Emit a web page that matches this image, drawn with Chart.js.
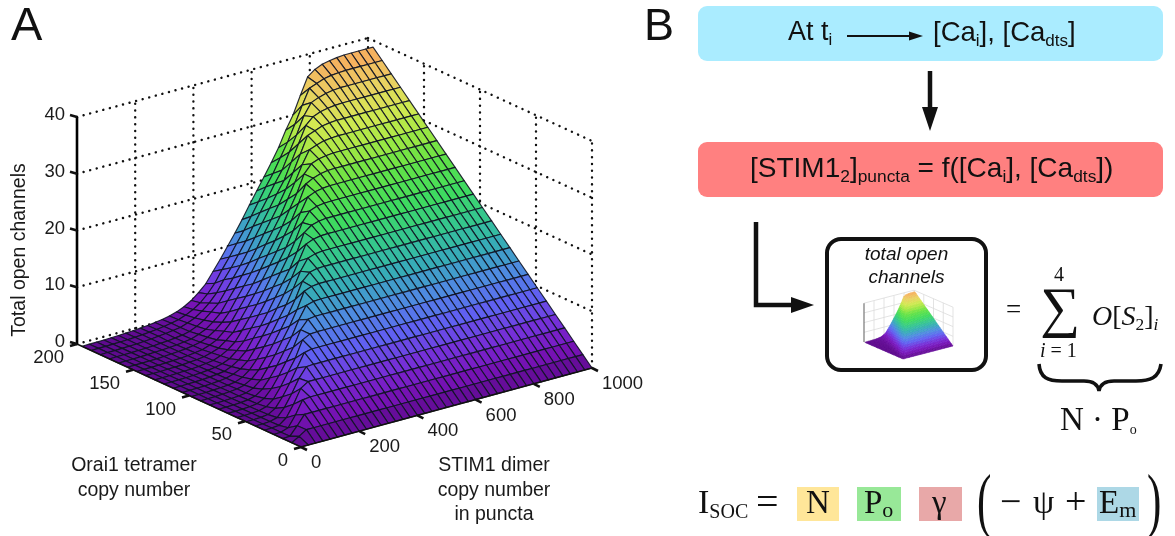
<!DOCTYPE html>
<html>
<head>
<meta charset="utf-8">
<title>Total open channels</title>
<script src="https://cdn.jsdelivr.net/npm/chart.js@4"></script>
<style>
    html, body { margin: 0; padding: 0; background: #fff; }
    #page { position: relative; width: 1175px; height: 536px; overflow: hidden; }
    #chart { position: absolute; left: 0; top: 0; z-index: 1; }
    #art { position: absolute; left: 0; top: 0; z-index: 1; }
    .box { position: absolute; z-index: 0; }
    .t { position: absolute; z-index: 2; white-space: nowrap; color: #111; font-family: "Liberation Sans", sans-serif; }
    .m { font-family: "Liberation Serif", serif; color: #111; }
    sub { font-size: 0.62em; line-height: 0; vertical-align: -0.28em; }
</style>
</head>
<body>
<div id="page">
    <div class="box" style="left:698px;top:6px;width:465px;height:55px;background:#aaecff;border-radius:9px"></div>
    <div class="box" style="left:698px;top:142px;width:465px;height:55px;background:#ff8080;border-radius:9px"></div>
    <div class="box" style="left:825px;top:237px;width:155px;height:127px;border:4px solid #111;border-radius:16px"></div>
    <div class="box" style="left:797px;top:487px;width:42px;height:34px;background:#ffe699"></div>
    <div class="box" style="left:857px;top:487px;width:44px;height:34px;background:#98e898"></div>
    <div class="box" style="left:919px;top:487px;width:43px;height:34px;background:#e8a8a8"></div>
    <div class="box" style="left:1097px;top:487px;width:42px;height:34px;background:#add8e6"></div>

    <canvas id="chart" width="1175" height="536"></canvas>

    <svg id="art" width="1175" height="536">
        <path d="M847 36H915" stroke="#111" stroke-width="2" fill="none"/>
        <path d="M923 36L909 31.5V40.5Z" fill="#111"/>
        <path d="M930 71V112" stroke="#111" stroke-width="4.5" fill="none"/>
        <path d="M930 131L922 107H938Z" fill="#111"/>
        <path d="M756 222V305H796" stroke="#111" stroke-width="4.5" fill="none"/>
        <path d="M814 305L791 297V313Z" fill="#111"/>
        <path d="M1039 364C1040 378 1048 381 1062 381H1084C1094 381 1098 385 1099 391C1100 385 1104 381 1114 381H1136C1150 381 1159 378 1161 364" stroke="#111" stroke-width="3.6" fill="none"/>
    </svg>

    <div class="t" style="left:11px;top:-4px;font-size:47px">A</div>
    <div class="t" style="left:644px;top:-1px;font-size:45px">B</div>

    <div class="t" style="left:788px;top:16px;font-size:27px">At t<sub>i</sub></div>
    <div class="t" style="left:933px;top:16px;font-size:27.5px">[Ca<sub>i</sub>], [Ca<sub>dts</sub>]</div>
    <div class="t" style="left:750px;top:152px;font-size:28px">[STIM1<sub>2</sub>]<sub>puncta</sub> = f([Ca<sub>i</sub>], [Ca<sub>dts</sub>])</div>

    <div class="t" style="left:827px;top:242px;width:159px;text-align:center;font-size:19px;font-style:italic;line-height:23px">total open<br>channels</div>

    <div class="t m" style="left:1006px;top:294px;font-size:27px">=</div>
    <div class="t m" style="left:1054px;top:263px;font-size:20px">4</div>
    <div class="t m" style="left:1040px;top:275px;font-size:56px">∑</div>
    <div class="t m" style="left:1040px;top:339px;font-size:20px"><i>i</i> = 1</div>
    <div class="t m" style="left:1092px;top:300px;font-size:28px"><i>O</i>[<i>S</i><sub>2</sub>]<sub><i>i</i></sub></div>
    <div class="t m" style="left:1060px;top:401px;font-size:33px">N · P<sub style="font-size:14px">o</sub></div>

    <div class="t m" style="left:698px;top:483px;font-size:34px">I<sub style="font-size:20px;vertical-align:-0.25em">SOC</sub></div>
    <div class="t m" style="left:756px;top:478px;font-size:40px">=</div>
    <div class="t m" style="left:806px;top:484px;font-size:33px">N</div>
    <div class="t m" style="left:864px;top:484px;font-size:33px">P<sub style="font-size:22px;vertical-align:-0.2em">o</sub></div>
    <div class="t m" style="left:932px;top:484px;font-size:33px">γ</div>
    <div class="t m" style="left:977px;top:459px;font-size:72px;transform:scaleX(0.6);transform-origin:0 0">(</div>
    <div class="t m" style="left:1000px;top:479px;font-size:38px">−</div>
    <div class="t m" style="left:1033px;top:483px;font-size:34px">ψ</div>
    <div class="t m" style="left:1065px;top:479px;font-size:38px">+</div>
    <div class="t m" style="left:1099px;top:484px;font-size:33px">E<sub style="font-size:22px;vertical-align:-0.2em">m</sub></div>
    <div class="t m" style="left:1147px;top:459px;font-size:72px;transform:scaleX(0.6);transform-origin:0 0">)</div>
</div>

<script>
// axis values
const stimTicks = [0, 200, 400, 600, 800, 1000];
const oraiTicks = [0, 50, 100, 150, 200];
const openTicks = [0, 10, 20, 30, 40];

// mesh positions on the two floor axes
const stimCopies = [0, 25, 50, 75, 100, 125, 150, 175, 200, 225, 250, 275, 300, 325, 350, 375, 400, 425, 450, 475, 500,
    525, 550, 575, 600, 625, 650, 675, 700, 725, 750, 775, 800, 825, 850, 875, 900, 925, 950, 975, 1000];
const oraiCopies = [0, 8.15, 16.3, 24.4, 32.6, 40.7, 48.9, 57, 65.2, 73.3, 81.5, 89.6, 97.8, 105.9, 114, 122.2, 130.3,
    138.5, 146.6, 154.8, 162.9, 171, 179.2, 187.3, 195.5];

// total open channels, one row per oraiCopies entry, one column per stimCopies entry
const openChannels = [
    [0,0,0,0,0,0,0,0,0,0,0,0,0,0,0,0,0,0,0,0,0,0,0,0,0,0,0,0,0,0,0,0,0,0,0,0,0,0,0,0,0],
    [0,.79,1.62,1.62,1.62,1.62,1.62,1.62,1.62,1.62,1.62,1.62,1.62,1.62,1.62,1.62,1.62,1.62,1.62,1.62,1.62,1.62,1.62,1.62,1.62,1.62,1.62,1.62,1.62,1.62,1.62,1.62,1.62,1.62,1.62,1.62,1.62,1.62,1.62,1.62,1.62],
    [0,.08,1.58,3.23,3.23,3.23,3.23,3.23,3.23,3.23,3.23,3.23,3.23,3.23,3.23,3.23,3.23,3.23,3.23,3.23,3.23,3.23,3.23,3.23,3.23,3.23,3.23,3.23,3.23,3.23,3.23,3.23,3.23,3.23,3.23,3.23,3.23,3.23,3.23,3.23,3.23],
    [0,.04,.49,2.38,4.7,4.85,4.85,4.85,4.85,4.85,4.85,4.85,4.85,4.85,4.85,4.85,4.85,4.85,4.85,4.85,4.85,4.85,4.85,4.85,4.85,4.85,4.85,4.85,4.85,4.85,4.85,4.85,4.85,4.85,4.85,4.85,4.85,4.85,4.85,4.85,4.85],
    [0,.03,.16,1.15,3.17,5.63,6.47,6.47,6.47,6.47,6.47,6.47,6.47,6.47,6.47,6.47,6.47,6.47,6.47,6.47,6.47,6.47,6.47,6.47,6.47,6.47,6.47,6.47,6.47,6.47,6.47,6.47,6.47,6.47,6.47,6.47,6.47,6.47,6.47,6.47,6.47],
    [0,.02,.11,.44,1.9,3.96,6.31,8.01,8.09,8.09,8.09,8.09,8.09,8.09,8.09,8.09,8.09,8.09,8.09,8.09,8.09,8.09,8.09,8.09,8.09,8.09,8.09,8.09,8.09,8.09,8.09,8.09,8.09,8.09,8.09,8.09,8.09,8.09,8.09,8.09,8.09],
    [0,.02,.09,.23,.97,2.67,4.75,7.08,9.41,9.7,9.7,9.7,9.7,9.7,9.7,9.7,9.7,9.7,9.7,9.7,9.7,9.7,9.7,9.7,9.7,9.7,9.7,9.7,9.7,9.7,9.7,9.7,9.7,9.7,9.7,9.7,9.7,9.7,9.7,9.7,9.7],
    [0,.02,.07,.18,.52,1.53,3.4,5.55,7.7,10.58,11.24,11.32,11.32,11.32,11.32,11.32,11.32,11.32,11.32,11.32,11.32,11.32,11.32,11.32,11.32,11.32,11.32,11.32,11.32,11.32,11.32,11.32,11.32,11.32,11.32,11.32,11.32,11.32,11.32,11.32,11.32],
    [0,.02,.06,.14,.31,.91,2.3,4.21,6.34,8.54,11.26,12.75,12.94,12.94,12.94,12.94,12.94,12.94,12.94,12.94,12.94,12.94,12.94,12.94,12.94,12.94,12.94,12.94,12.94,12.94,12.94,12.94,12.94,12.94,12.94,12.94,12.94,12.94,12.94,12.94,12.94],
    [0,.02,.06,.13,.26,.58,1.46,3.06,4.95,7.13,9.31,11.93,14.11,14.48,14.55,14.55,14.55,14.55,14.55,14.55,14.55,14.55,14.55,14.55,14.55,14.55,14.55,14.55,14.55,14.55,14.55,14.55,14.55,14.55,14.55,14.55,14.55,14.55,14.55,14.55,14.55],
    [0,.02,.05,.11,.21,.39,.89,1.94,3.8,5.74,7.92,10.11,12.61,15.52,16.01,16.17,16.17,16.17,16.17,16.17,16.17,16.17,16.17,16.17,16.17,16.17,16.17,16.17,16.17,16.17,16.17,16.17,16.17,16.17,16.17,16.17,16.17,16.17,16.17,16.17,16.17],
    [0,.02,.05,.11,.2,.34,.68,1.39,2.67,4.54,6.53,8.72,10.91,13.34,16.19,17.43,17.74,17.79,17.79,17.79,17.79,17.79,17.79,17.79,17.79,17.79,17.79,17.79,17.79,17.79,17.79,17.79,17.79,17.79,17.79,17.79,17.79,17.79,17.79,17.79,17.79],
    [0,.02,.04,.1,.17,.27,.47,.97,1.94,3.45,5.34,7.33,9.51,11.64,14.16,16.88,18.82,19.24,19.4,19.4,19.4,19.4,19.4,19.4,19.4,19.4,19.4,19.4,19.4,19.4,19.4,19.4,19.4,19.4,19.4,19.4,19.4,19.4,19.4,19.4,19.4],
    [0,.02,.04,.08,.15,.25,.42,.76,1.37,2.42,4.2,6.1,8.09,10.3,12.49,14.92,17.55,20.22,20.75,20.98,21.02,21.02,21.02,21.02,21.02,21.02,21.02,21.02,21.02,21.02,21.02,21.02,21.02,21.02,21.02,21.02,21.02,21.02,21.02,21.02,21.02],
    [0,.02,.05,.09,.14,.23,.36,.54,1.04,1.88,3.06,4.98,6.79,8.83,11.09,13.24,15.4,18.11,21.17,22.12,22.48,22.64,22.64,22.64,22.64,22.64,22.64,22.64,22.64,22.64,22.64,22.64,22.64,22.64,22.64,22.64,22.64,22.64,22.64,22.64,22.64],
    [0,.02,.05,.07,.12,.22,.32,.49,.8,1.33,2.43,3.76,5.7,7.64,9.7,11.89,14.07,16.38,18.92,21.83,23.53,24.02,24.21,24.26,24.26,24.26,24.26,24.26,24.26,24.26,24.26,24.26,24.26,24.26,24.26,24.26,24.26,24.26,24.26,24.26,24.26],
    [0,.03,.04,.08,.13,.18,.28,.44,.62,1.11,1.81,2.85,4.6,6.47,8.41,10.48,12.68,14.88,17.07,19.66,22.51,24.91,25.48,25.74,25.87,25.87,25.87,25.87,25.87,25.87,25.87,25.87,25.87,25.87,25.87,25.87,25.87,25.87,25.87,25.87,25.87],
    [0,.03,.04,.08,.11,.16,.27,.38,.55,.91,1.37,2.34,3.44,5.36,7.28,9.21,11.27,13.47,15.67,18.01,20.34,23.09,26.12,26.8,27.24,27.44,27.49,27.49,27.49,27.49,27.49,27.49,27.49,27.49,27.49,27.49,27.49,27.49,27.49,27.49,27.49],
    [0,.03,.03,.06,.12,.17,.26,.35,.52,.7,1.16,1.75,2.91,4.22,6.11,8.01,9.9,12.08,14.26,16.45,18.63,21.25,23.72,26.78,28.24,28.76,28.96,29.11,29.11,29.11,29.11,29.11,29.11,29.11,29.11,29.11,29.11,29.11,29.11,29.11,29.11],
    [0,.03,.03,.06,.09,.15,.25,.34,.46,.65,.92,1.44,2.3,3.38,4.92,6.91,8.76,10.75,12.9,15.05,17.2,19.35,21.96,24.58,27.34,29.64,30.11,30.5,30.66,30.72,30.72,30.72,30.72,30.72,30.72,30.72,30.72,30.72,30.72,30.72,30.72],
    [0,.03,.03,.06,.1,.16,.23,.32,.42,.58,.78,1.23,1.78,2.75,3.88,5.76,7.6,9.54,11.48,13.58,15.85,18.01,20.21,22.64,25.23,28.14,31.05,31.53,32.02,32.24,32.34,32.34,32.34,32.34,32.34,32.34,32.34,32.34,32.34,32.34,32.34],
    [0,.03,.03,.07,.1,.14,.2,.31,.37,.54,.71,1.02,1.56,2.31,3.4,4.58,6.45,8.32,10.19,12.23,14.43,16.64,18.85,21.06,23.09,25.98,28.87,31.75,32.94,33.45,33.72,33.89,33.96,33.96,33.96,33.96,33.96,33.96,33.96,33.96,33.96],
    [0,.03,.03,.07,.11,.16,.24,.34,.46,.6,.78,.98,1.4,1.95,2.8,3.9,5.34,7.29,9.07,11.03,13.05,15.3,17.43,19.56,21.8,23.83,26.68,29.35,32.37,34.33,34.86,35.25,35.46,35.57,35.57,35.57,35.57,35.57,35.57,35.57,35.57],
    [0,.03,.04,.08,.12,.17,.24,.33,.45,.58,.76,.98,1.25,1.72,2.35,3.2,4.4,5.95,8,9.86,11.9,13.83,15.99,18.22,20.45,22.5,24.92,27.33,30.12,33.1,35.78,36.26,36.74,37,37.12,37.19,37.19,37.19,37.19,37.19,37.19],
    [0,.03,.05,.08,.12,.17,.24,.32,.42,.54,.7,.9,1.18,1.55,2.1,2.85,3.9,5.1,6.91,8.73,10.67,12.61,14.67,16.88,19.02,21.15,23.29,25.61,28.33,30.66,33.76,36.68,37.65,38.23,38.5,38.69,38.81,38.81,38.81,38.81,38.81]
];

// colours of the surface against open channel count
const colourLevels = [0, 3, 6, 9, 12, 15, 18, 22, 26, 29, 32, 35, 39];
const colourValues = ['#5f0a8e', '#7a14bc', '#7434dc', '#5f62f2', '#4f8ae2', '#38a9bc', '#33c494', '#3fdb5e', '#66e344', '#a6e844', '#d4e852', '#ead062', '#f8a85e'];

// where the two views sit on the page: front, right and left floor corners, pixels per channel
const mainView = { fx: 301, fy: 447, rx: 592, ry: 368, lx: 77, ly: 344, zs: 5.675 };
const insetView = { fx: 903, fy: 359, rx: 953, ry: 346, lx: 864, ly: 342, zs: 0.97 };

function project(view, stim, orai, open) {
    return {
        x: view.fx + stim / 1000 * (view.rx - view.fx) + orai / 200 * (view.lx - view.fx),
        y: view.fy + stim / 1000 * (view.ry - view.fy) + orai / 200 * (view.ly - view.fy) - open * view.zs
    };
}

function hexToRgb(hex) {
    return [parseInt(hex.slice(1, 3), 16), parseInt(hex.slice(3, 5), 16), parseInt(hex.slice(5, 7), 16)];
}

function colourFor(open) {
    let k = 0;
    while (k < colourLevels.length - 2 && open > colourLevels[k + 1]) k++;
    const t = Math.min(1, (open - colourLevels[k]) / (colourLevels[k + 1] - colourLevels[k]));
    const a = hexToRgb(colourValues[k]);
    const b = hexToRgb(colourValues[k + 1]);
    return 'rgb(' + a.map((v, n) => Math.round(v + (b[n] - v) * t)).join(',') + ')';
}

// joins short pieces into one line dataset, gaps between them
function pieces(list) {
    const out = [];
    list.forEach((p, n) => {
        if (n > 0) out.push({ x: NaN, y: NaN });
        out.push(p[0], p[1]);
    });
    return out;
}

function wallLines(view) {
    const lines = [];
    openTicks.forEach(z => {
        lines.push([project(view, 0, 200, z), project(view, 1000, 200, z)]);
        lines.push([project(view, 1000, 200, z), project(view, 1000, 0, z)]);
    });
    stimTicks.slice(1).forEach(s => lines.push([project(view, s, 200, 0), project(view, s, 200, 40)]));
    oraiTicks.slice(0, 4).forEach(o => lines.push([project(view, 1000, o, 0), project(view, 1000, o, 40)]));
    return pieces(lines);
}

function lineSet(data, colour, width, dash) {
    return {
        data: data, showLine: true, spanGaps: false, pointRadius: 0,
        borderColor: colour, borderWidth: width, borderDash: dash || [],
        borderCapStyle: dash ? 'round' : 'butt', tension: 0
    };
}

function offset(p, dx, dy) {
    return { x: p.x + dx, y: p.y + dy };
}

const openAxisTicks = pieces(openTicks.map(z => {
    const p = project(mainView, 0, 200, z);
    return [p, offset(p, -7, -2)];
}));
const oraiAxisTicks = pieces(oraiTicks.map(o => {
    const p = project(mainView, 0, o, 0);
    return [p, offset(p, -7, 2)];
}));
const stimAxisTicks = pieces(stimTicks.map(s => {
    const p = project(mainView, s, 0, 0);
    return [p, offset(p, 6, 3)];
}));

const surfaceMarker = { data: [], surfaces: [{ view: mainView, mesh: true }] };
const insetMarker = { data: [], surfaces: [{ view: insetView, mesh: false }] };

function drawSurface(chart, spec) {
    const ctx = chart.ctx;
    const xs = chart.scales.x;
    const ys = chart.scales.y;
    const px = (i, j) => {
        const p = project(spec.view, stimCopies[j], oraiCopies[i], openChannels[i][j]);
        return [xs.getPixelForValue(p.x), ys.getPixelForValue(p.y)];
    };
    ctx.save();
    ctx.lineJoin = 'round';
    for (let i = oraiCopies.length - 2; i >= 0; i--) {
        for (let j = stimCopies.length - 2; j >= 0; j--) {
            const corners = [px(i, j), px(i, j + 1), px(i + 1, j + 1), px(i + 1, j)];
            const mean = (openChannels[i][j] + openChannels[i][j + 1] + openChannels[i + 1][j + 1] + openChannels[i + 1][j]) / 4;
            ctx.beginPath();
            corners.forEach((c, n) => n ? ctx.lineTo(c[0], c[1]) : ctx.moveTo(c[0], c[1]));
            ctx.closePath();
            ctx.fillStyle = colourFor(mean);
            ctx.fill();
            ctx.strokeStyle = spec.mesh ? 'rgba(15,20,35,0.9)' : colourFor(mean);
            ctx.lineWidth = spec.mesh ? 1.15 : 0.5;
            ctx.stroke();
        }
    }
    ctx.restore();
}

const surfacePlugin = {
    id: 'surface',
    afterDatasetDraw(chart, args) {
        const set = chart.data.datasets[args.index];
        if (set.surfaces) set.surfaces.forEach(s => drawSurface(chart, s));
    },
    afterDraw(chart) {
        const ctx = chart.ctx;
        const xs = chart.scales.x;
        const ys = chart.scales.y;
        const label = (text, x, y, align) => {
            ctx.textAlign = align;
            ctx.fillText(text, xs.getPixelForValue(x), ys.getPixelForValue(y));
        };
        ctx.save();
        ctx.fillStyle = '#1a1a1a';
        ctx.textBaseline = 'middle';
        ctx.font = '18.5px "Liberation Sans"';
        openTicks.forEach(z => {
            const p = project(mainView, 0, 200, z);
            label(String(z), p.x - 12, p.y - 2, 'right');
        });
        oraiTicks.forEach(o => {
            const p = project(mainView, 0, o, 0);
            label(String(o), p.x - 13, p.y + 14, 'right');
        });
        stimTicks.forEach(s => {
            const p = project(mainView, s, 0, 0);
            label(String(s), p.x + 10, p.y + 16, 'left');
        });
        ctx.font = '19.5px "Liberation Sans"';
        label('Orai1 tetramer', 134, 466, 'center');
        label('copy number', 134, 491, 'center');
        label('STIM1 dimer', 494, 466, 'center');
        label('copy number', 494, 491, 'center');
        label('in puncta', 494, 515, 'center');
        ctx.translate(20, 250);
        ctx.rotate(-Math.PI / 2);
        ctx.textAlign = 'center';
        ctx.fillText('Total open channels', 0, 0);
        ctx.restore();
    }
};

new Chart(document.getElementById('chart').getContext('2d'), {
    type: 'scatter',
    data: {
        datasets: [
            lineSet(stimAxisTicks, '#111', 2.6),
            lineSet(oraiAxisTicks, '#111', 2.6),
            lineSet(openAxisTicks, '#111', 2.6),
            lineSet([project(mainView, 0, 200, 0), project(mainView, 0, 200, 40)], '#000', 2.6),
            lineSet([project(mainView, 0, 200, 0), project(mainView, 0, 0, 0), project(mainView, 1000, 0, 0)], '#111', 1.4),
            surfaceMarker,
            lineSet(wallLines(mainView), '#111', 2.4, [0.1, 6.7]),
            lineSet([project(insetView, 0, 200, 0), project(insetView, 0, 200, 40)], '#777', 1.2),
            insetMarker,
            lineSet(wallLines(insetView), '#dcdcdc', 0.8)
        ]
    },
    plugins: [surfacePlugin],
    options: {
        responsive: false,
        animation: false,
        layout: { padding: 0 },
        plugins: { legend: { display: false }, tooltip: { enabled: false } },
        scales: {
            x: { type: 'linear', min: 0, max: 1175, display: false },
            y: { type: 'linear', min: 0, max: 536, reverse: true, display: false }
        }
    }
});
</script>
</body>
</html>
